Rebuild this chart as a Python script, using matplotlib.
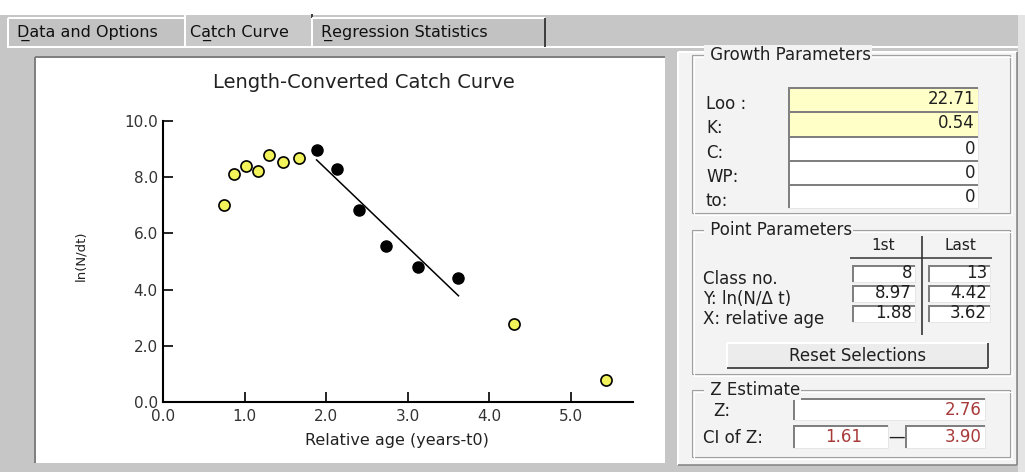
import matplotlib.pyplot as plt
from matplotlib.patches import Rectangle
import numpy as np

# catch curve points, length classes 1..15
rel_age = [0.74, 0.87, 1.01, 1.16, 1.30, 1.47, 1.66, 1.88, 2.13, 2.40, 2.73, 3.12, 3.62, 4.30, 5.43]
ln_n = [6.99, 8.10, 8.39, 8.21, 8.78, 8.55, 8.69, 8.97, 8.30, 6.84, 5.54, 4.82, 4.42, 2.78, 0.79]
first_class = 8
last_class = 13

xticks = [0.0, 1.0, 2.0, 3.0, 4.0, 5.0]
yticks = [0.0, 2.0, 4.0, 6.0, 8.0, 10.0]

tabs = ['Data and Options', 'Catch Curve', 'Regression Statistics']
tab_hotkeys = [0, 1, 0]
growth_labels = ['Loo :', 'K:', 'C:', 'WP:', 'to:']
growth_values = ['22.71', '0.54', '0', '0', '0']
point_labels = ['Class no.', 'Y: ln(N/\u0394 t)', 'X: relative age']
first_values = ['8', '8.97', '1.88']
last_values = ['13', '4.42', '3.62']
z_value = '2.76'
z_ci = ['1.61', '3.90']

GRAY = '#c6c6c6'
PANEL = '#f3f3f3'
DARK = '#808080'
RED = '#a83a3a'
YELLOW = '#f2f25a'
FS = 12

fig = plt.figure(figsize=(10.25, 4.72), dpi=100)
fig.patch.set_facecolor('white')
bg = fig.add_axes([0, 0, 1, 1])
bg.set_xlim(0, 1025)
bg.set_ylim(472, 0)
bg.axis('off')


def rect(x0, y0, x1, y1, fc, ec='none', lw=0, z=1):
    bg.add_patch(Rectangle((x0, y0), x1 - x0, y1 - y0, facecolor=fc,
                           edgecolor=ec, linewidth=lw, zorder=z))


def hline(x0, x1, y, c, lw=1, z=3):
    bg.plot([x0, x1], [y, y], color=c, lw=lw * 0.72, zorder=z, solid_capstyle='butt')


def vline(x, y0, y1, c, lw=1, z=3):
    bg.plot([x, x], [y0, y1], color=c, lw=lw * 0.72, zorder=z, solid_capstyle='butt')


def sunken(x0, y0, x1, y1, fc='white'):
    rect(x0, y0, x1, y1, fc, z=2)
    hline(x0, x1, y0 + 1, DARK, 2)
    vline(x0 + 1, y0, y1, DARK, 2)
    hline(x0, x1, y1, '#e6e6e6', 1)
    vline(x1, y0, y1, '#e6e6e6', 1)


def raised(x0, y0, x1, y1, fc):
    rect(x0, y0, x1, y1, fc, z=2)
    hline(x0, x1, y0, 'white', 2)
    vline(x0, y0, y1, 'white', 2)
    hline(x0, x1, y1, '#505050', 2)
    vline(x1, y0, y1, '#505050', 2)


def group(x0, y0, x1, y1, title):
    bg.add_patch(Rectangle((x0, y0), x1 - x0, y1 - y0, fill=False,
                           edgecolor='#a0a0a0', linewidth=0.8, zorder=2))
    bg.add_patch(Rectangle((x0 + 1.5, y0 + 1.5), x1 - x0, y1 - y0, fill=False,
                           edgecolor='white', linewidth=0.8, zorder=2))
    bg.text(x0 + 13, y0, ' ' + title, ha='left', va='center', fontsize=FS,
            color='#202020', zorder=4,
            bbox=dict(facecolor=PANEL, edgecolor='none', pad=0.5))


def label(x, y, s, ha='left', color='#202020', size=FS):
    bg.text(x, y, s, ha=ha, va='center', fontsize=size, color=color, zorder=5)


# window chrome
rect(0, 15, 1025, 472, GRAY, z=0)
rect(1018, 15, 1025, 472, '#e4e4e4', z=0)
rect(0, 0, 1025, 15, 'white', z=0)

# tabs
tab_x = [(8, 185), (185, 312), (312, 545)]
for i, (name, (x0, x1)) in enumerate(zip(tabs, tab_x)):
    active = name == 'Catch Curve'
    y0 = 14 if active else 18
    rect(x0, y0, x1, 47, '#c9c9c9' if active else '#c2c2c2', z=1)
    hline(x0, x1, y0, 'white', 2)
    vline(x0, y0, 47, 'white', 2)
    vline(x1, y0, 47, '#404040', 2)
    k = tab_hotkeys[i]
    txt = name[:k + 1] + '\u0332' + name[k + 1:]
    label(x0 + (5 if active else 9), 33, txt, size=11.5, color='#101010')
hline(7, 1018, 47, 'white', 2, z=1)

# plot panel
rect(35, 57, 665, 463, 'white', z=1)
hline(35, 665, 57, DARK, 2)
vline(35, 57, 463, DARK, 2)

# right panel
rect(678, 52, 1017, 465, PANEL, z=1)
hline(678, 1017, 52, 'white', 2)
vline(678, 52, 465, 'white', 2)
vline(1017, 52, 465, DARK, 1.5)
hline(678, 1017, 465, DARK, 1.5)

# growth parameters
group(692, 55, 1010, 213, 'Growth Parameters')
rows = [86.7, 111, 136, 160, 184.3, 208.3]
for i in range(5):
    sunken(788, rows[i], 978, rows[i + 1], '#ffffc8' if i < 2 else 'white')
    label(975, rows[i] + 12.5, growth_values[i], ha='right')
    label(706, rows[i] + 17, growth_labels[i])

# point parameters
group(692, 230, 1010, 374, 'Point Parameters')
label(883, 246, '1st', ha='center', size=11)
label(960, 246, 'Last', ha='center', size=11)
vline(922, 236, 335, '#202020', 1.5)
hline(850, 992, 258, '#303030', 1.5)
prow = [265, 285, 305]
for i in range(3):
    sunken(852, prow[i], 915, prow[i] + 17)
    sunken(928, prow[i], 990, prow[i] + 17)
    label(912, prow[i] + 8.5, first_values[i], ha='right')
    label(987, prow[i] + 8.5, last_values[i], ha='right')
    label(703, prow[i] + 14, point_labels[i])
raised(727, 343, 988, 368, '#ececec')
label(858, 356, 'Reset Selections', ha='center')

# z estimate
group(692, 390, 1010, 457, 'Z Estimate')
label(713, 411, 'Z:')
sunken(793, 398, 985, 420)
label(982, 410, z_value, ha='right', color=RED)
label(703, 438, 'CI of Z:')
sunken(793, 425, 888, 448)
label(862, 437, z_ci[0], ha='right', color=RED)
label(897, 437, '\u2014', ha='center')
sunken(905, 425, 985, 448)
label(982, 437, z_ci[1], ha='right', color=RED)

# catch curve plot
ax = fig.add_axes([163.3 / 1025, (472 - 402.3) / 472, (633 - 163.3) / 1025, (402.3 - 120.7) / 472])
ax.patch.set_alpha(0)
ax.set_xlim(0, 5.76)
ax.set_ylim(0, 10)
for s in ['top', 'right']:
    ax.spines[s].set_visible(False)
for s in ['left', 'bottom']:
    ax.spines[s].set_linewidth(1.5)
ax.set_xticks(xticks)
ax.set_yticks(yticks)
ax.set_xticklabels(['%.1f' % v for v in xticks])
ax.set_yticklabels(['%.1f' % v for v in yticks])
ax.tick_params(direction='in', length=7, width=1.2, labelsize=11, labelcolor='#333333')
ax.tick_params(axis='y', pad=4)
ax.tick_params(axis='x', pad=5)

age = np.array(rel_age)
lnn = np.array(ln_n)
sel = np.arange(len(age)) + 1
picked = (sel >= first_class) & (sel <= last_class)
ax.plot(age[~picked], lnn[~picked], 'o', ms=8, mfc=YELLOW, mec='black', mew=1.2, clip_on=False)
ax.plot(age[picked], lnn[picked], 'o', ms=8, mfc='black', mec='black', clip_on=False)

slope, icpt = np.polyfit(age[picked], lnn[picked], 1)
fit_x = np.array([age[picked][0], age[picked][-1]])
ax.plot(fit_x, icpt + slope * fit_x, color='black', lw=1.1)

bg.text(364, 82, 'Length-Converted Catch Curve', ha='center', va='center', fontsize=14, color='#222222')
bg.text(397, 440, 'Relative age (years-t0)', ha='center', va='center', fontsize=11.5, color='#222222')
bg.text(81, 256, 'ln(N/dt)', ha='center', va='center', rotation=90, fontsize=9.5, color='#222222')

fig.savefig('out.png', dpi=100)
